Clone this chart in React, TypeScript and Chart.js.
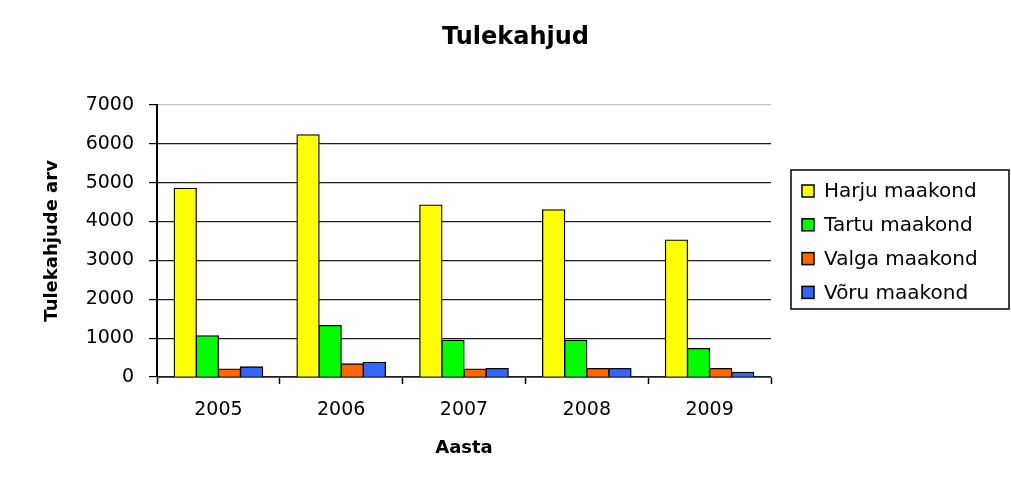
import React, { useEffect, useRef } from "react";
import { Chart, registerables } from "chart.js";

Chart.register(...registerables);

const categories = ["2005", "2006", "2007", "2008", "2009"];
const seriesNames = ["Harju maakond", "Tartu maakond", "Valga maakond", "Võru maakond"];
const harju = [4850, 6230, 4420, 4300, 3520];
const tartu = [1060, 1320, 945, 945, 730];
const valga = [205, 335, 205, 215, 215];
const voru = [258, 378, 215, 215, 120];
const seriesColors = ["#FFFF00", "#00FF00", "#FF6600", "#3366FF"];
const yTicks = [0, 1000, 2000, 3000, 4000, 5000, 6000, 7000];
const chartTitle = "Tulekahjud";
const yTitle = "Tulekahjude arv";
const xTitle = "Aasta";

const FONT = "'DejaVu Sans', sans-serif";

const boxLegend = {
  id: "boxLegend",
  afterDraw(chart: any) {
    const ctx = chart.ctx;
    const x = 791, y = 170, w = 218, h = 139;
    ctx.save();
    ctx.strokeStyle = "#000";
    ctx.lineWidth = 1.5;
    ctx.strokeRect(x, y, w, h);
    ctx.font = "20px " + FONT;
    ctx.textBaseline = "middle";
    ctx.textAlign = "left";
    chart.data.datasets.forEach((ds: any, i: number) => {
      const cy = y + 21 + i * 33.8;
      ctx.fillStyle = ds.backgroundColor;
      ctx.fillRect(802, cy - 6, 12, 12);
      ctx.lineWidth = 1.5;
      ctx.strokeStyle = "#000";
      ctx.strokeRect(802, cy - 6, 12, 12);
      ctx.fillStyle = "#000";
      ctx.fillText(ds.label, 824, cy + 1);
    });
    ctx.restore();
  },
};

export default function App() {
  const ref = useRef<HTMLCanvasElement>(null);
  useEffect(() => {
    const values = [harju, tartu, valga, voru];
    const chart = new Chart(ref.current!, {
      type: "bar",
      data: {
        labels: categories,
        datasets: seriesNames.map((name, i) => ({
          label: name,
          data: values[i],
          backgroundColor: seriesColors[i],
          borderColor: "#000",
          borderWidth: 1.3,
          inflateAmount: 0.6,
          categoryPercentage: 0.72,
          barPercentage: 1,
        })),
      },
      options: {
        responsive: false,
        animation: false,
        layout: { padding: { left: 20, right: 0, top: 0, bottom: 0 } },
        plugins: {
          legend: { display: false },
          tooltip: { enabled: false },
          title: {
            display: true,
            text: chartTitle,
            color: "#000",
            font: { family: FONT, size: 24, weight: "bold" },
            padding: { top: 23, bottom: 53 },
          },
        },
        scales: {
          x: {
            type: "category",
            afterFit(s: any) { s.height = 106; },
            grid: {
              drawOnChartArea: false,
              drawTicks: true,
              tickLength: 7,
              tickColor: "#000",
              tickWidth: 1.5,
              offset: true,
            },
            border: { color: "#555", width: 1 },
            ticks: { color: "#000", font: { family: FONT, size: 19 }, padding: 15 },
            title: {
              display: true,
              text: xTitle,
              color: "#000",
              font: { family: FONT, size: 18, weight: "bold" },
              padding: { top: 0, bottom: 24 },
            },
          },
          y: {
            type: "linear",
            min: 0,
            max: 7000,
            afterFit(s: any) { s.width = 137; },
            afterBuildTicks(s: any) { s.ticks = yTicks.map((v) => ({ value: v })); },
            grid: {
              color: (c: any) => (c.tick && c.tick.value === 7000 ? "#c4c4c4" : "#1e1e1e"),
              lineWidth: 1.2,
              tickColor: "#000",
              tickLength: 8,
            },
            border: { color: "#000", width: 2 },
            ticks: {
              color: "#000",
              font: { family: FONT, size: 19 },
              padding: 15,
              callback: (v: any) => String(v),
            },
            title: {
              display: true,
              text: yTitle,
              color: "#000",
              font: { family: FONT, size: 18, weight: "bold" },
              padding: { top: 22, bottom: 0 },
            },
          },
          pad: {
            type: "linear",
            position: "right",
            display: true,
            afterFit(s: any) { s.width = 240; },
            grid: { display: false },
            ticks: { display: false },
            border: { display: false },
          },
        },
      } as any,
      plugins: [boxLegend],
    });
    return () => chart.destroy();
  }, []);
  return (
    <div style={{ position: "fixed", left: 0, top: 0, width: 1011, height: 483, background: "#fff" }}>
      <canvas ref={ref} width={1011} height={483} style={{ display: "block" }} />
    </div>
  );
}
